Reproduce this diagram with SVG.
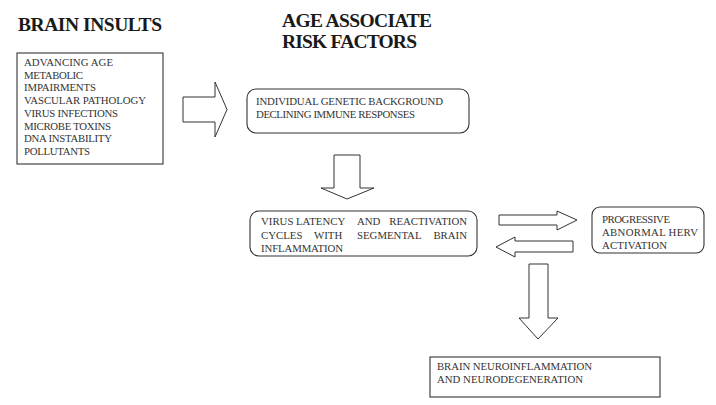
<svg xmlns="http://www.w3.org/2000/svg" width="716" height="405" viewBox="0 0 716 405">
<style>
.title{font-family:"Liberation Serif","Times New Roman",serif;font-weight:bold;font-size:19.5px;fill:#1a1a1a}
.t{font-family:"Liberation Serif","Times New Roman",serif;font-size:10.8px;fill:#333}
.box{fill:#fff;stroke:#333;stroke-width:1.1}
.arr{fill:#fff;stroke:#333;stroke-width:1}
</style>
<rect width="716" height="405" fill="#fff"/>
<g id="title-insults"><text class="title" x="18" y="31" textLength="144">BRAIN INSULTS</text></g>
<g id="title-risk">
<text class="title" x="282" y="27" textLength="150">AGE ASSOCIATE</text>
<text class="title" x="282" y="48" textLength="135">RISK FACTORS</text>
</g>
<g id="insults">
<rect class="box" x="17" y="53" width="146" height="111"/>
<text class="t" x="24" y="66" textLength="89">ADVANCING AGE</text>
<text class="t" x="24" y="78.7" textLength="59">METABOLIC</text>
<text class="t" x="24" y="91.4" textLength="72">IMPAIRMENTS</text>
<text class="t" x="24" y="104.1" textLength="122">VASCULAR PATHOLOGY</text>
<text class="t" x="24" y="116.8" textLength="94">VIRUS INFECTIONS</text>
<text class="t" x="24" y="129.5" textLength="87">MICROBE TOXINS</text>
<text class="t" x="24" y="142.2" textLength="88">DNA INSTABILITY</text>
<text class="t" x="24" y="155" textLength="66">POLLUTANTS</text>
</g>
<g id="risk">
<rect class="box" x="247" y="89" width="222" height="44" rx="9"/>
<text class="t" x="256" y="105" textLength="187">INDIVIDUAL GENETIC BACKGROUND</text>
<text class="t" x="256" y="118" textLength="159">DECLINING IMMUNE RESPONSES</text>
</g>
<g id="latency">
<rect class="box" x="250" y="211" width="227" height="45" rx="9"/>
<text class="t" y="225"><tspan x="261">VIRUS</tspan><tspan x="296">LATENCY</tspan><tspan x="357">AND</tspan></text>
<text class="t" x="467" y="225" text-anchor="end">REACTIVATION</text>
<text class="t" y="239"><tspan x="261">CYCLES</tspan><tspan x="314">WITH</tspan><tspan x="357">SEGMENTAL</tspan></text>
<text class="t" x="467" y="239" text-anchor="end">BRAIN</text>
<text class="t" x="261" y="252" textLength="82">INFLAMMATION</text>
</g>
<g id="herv">
<rect class="box" x="592" y="207" width="112" height="46" rx="8"/>
<text class="t" x="602" y="223" textLength="68">PROGRESSIVE</text>
<text class="t" x="602" y="236" textLength="96">ABNORMAL HERV</text>
<text class="t" x="602" y="249" textLength="65">ACTIVATION</text>
</g>
<g id="neuro">
<rect class="box" x="430" y="357" width="230" height="40"/>
<text class="t" x="437" y="370" textLength="155">BRAIN NEUROINFLAMMATION</text>
<text class="t" x="437" y="383" textLength="146">AND NEURODEGENERATION</text>
</g>
<g id="connectors">
<path class="arr" d="M183,97 H215 V82 L227,109.5 L215,137 V122 H183 Z"/>
<path class="arr" d="M334,155 H360 V188 H374 L347,199 L321,188 H334 Z"/>
<path class="arr" d="M499,215 H557 V211 L577,220 L557,230 V225 H499 Z"/>
<path class="arr" d="M573,241 H515 V237 L496,247 L515,257 V252 H573 Z"/>
<path class="arr" d="M529,264 H548 V318 H558 L538,339 L519,318 H529 Z"/>
</g>
</svg>
